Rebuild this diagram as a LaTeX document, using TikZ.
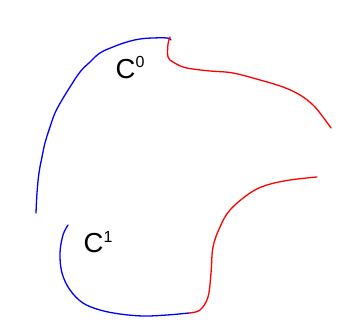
\documentclass[tikz,border=0pt]{standalone}
\usepackage{fontspec}
\setmainfont{Liberation Sans}
\begin{document}
\begin{tikzpicture}[x=1pt,y=-1pt,
  curveb/.style={draw=blue,line width=1.3pt,line cap=round,line join=round},
  curver/.style={draw=red,line width=1.3pt,line cap=round,line join=round},
  lab/.style={inner sep=0pt,anchor=base west,font=\fontsize{27.5}{30}\selectfont}]
\useasboundingbox (0,0) rectangle (344,320);
\fill[white] (0,0) rectangle (344,320);
% upper blue
\draw[curveb] plot[smooth,tension=0.7] coordinates {(36,213) (37,193) (39,173) (42,157) (45,143) (50,127) (55,113) (62,100) (70,87) (80,72) (90,62) (100,53) (113,47) (127,42) (140,39) (153,38) (167,38) (171,40)};
% upper red
\draw[curver] plot[smooth,tension=0.6] coordinates {(170,37) (168,44) (168,57) (173,62) (183,67) (193,69) (210,71) (233,73) (260,80) (283,87) (300,95) (313,105) (323,117) (331,128)};
% lower blue
\draw[curveb] plot[smooth,tension=0.6] coordinates {(68,225) (63,235) (60,253) (62,273) (70,290) (83,303) (100,310) (120,314) (143,316) (167,315) (189,313)};
% lower red
\draw[curver] plot[smooth,tension=0.6] coordinates {(189,313) (200,310) (208,297) (211,273) (213,247) (220,227) (230,210) (250,193) (267,185) (290,180) (317,177)};
\node[lab] (c0) at (115.5,79) {C\raisebox{11pt}{\fontsize{16}{16}\selectfont 0}};
\node[lab] (c1) at (83.5,252) {C\raisebox{10pt}{\fontsize{16}{16}\selectfont 1}};
\end{tikzpicture}
\end{document}
